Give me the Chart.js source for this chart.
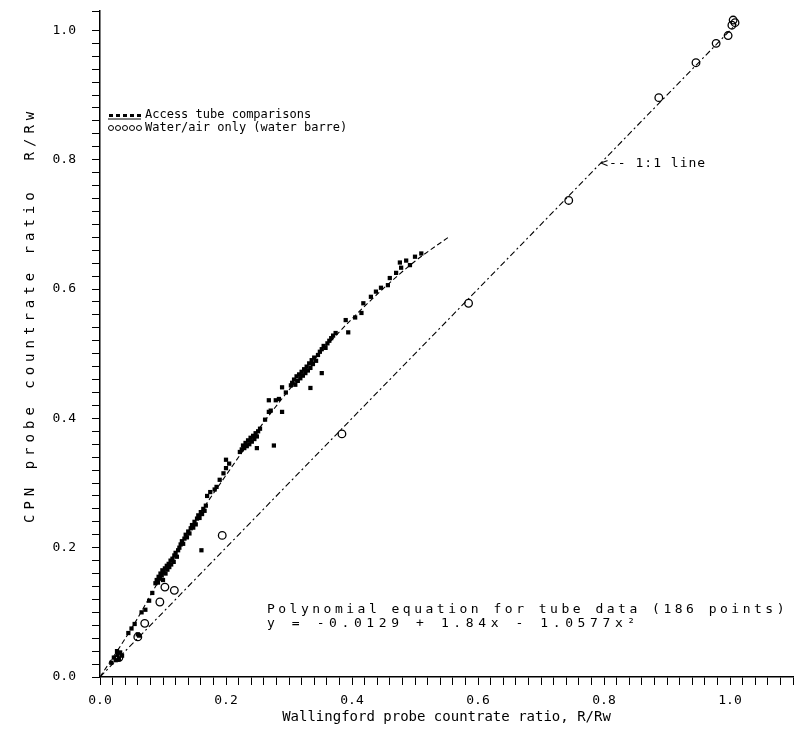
<!DOCTYPE html>
<html>
<head>
<meta charset="utf-8">
<script src="https://cdn.jsdelivr.net/npm/chart.js@4.4.0/dist/chart.umd.min.js"></script>
<style>
  html, body { margin: 0; padding: 0; background: #fff; }
  #wrap { width: 801px; height: 737px; }
</style>
</head>
<body>
<div id="wrap"><canvas id="chart"></canvas></div>
<script>
// Access tube comparisons (CPN vs Wallingford)
const tubePoints = [
  [0.018, 0.022], [0.022, 0.030], [0.025, 0.026], [0.028, 0.034], [0.030, 0.028], [0.032, 0.038], [0.035, 0.033], [0.027, 0.040],
  [0.045, 0.068], [0.050, 0.075], [0.055, 0.082], [0.060, 0.066], [0.062, 0.064], [0.066, 0.100], [0.072, 0.104], [0.078, 0.118], [0.083, 0.130],
  [0.088, 0.145], [0.090, 0.150], [0.092, 0.146], [0.093, 0.155], [0.095, 0.152], [0.096, 0.160], [0.098, 0.157], [0.099, 0.165],
  [0.100, 0.150], [0.101, 0.162], [0.103, 0.168], [0.104, 0.160], [0.106, 0.172], [0.107, 0.166], [0.109, 0.175], [0.110, 0.170],
  [0.112, 0.180], [0.113, 0.174], [0.115, 0.183], [0.117, 0.178], [0.118, 0.188], [0.120, 0.192], [0.122, 0.186], [0.124, 0.196],
  [0.126, 0.200], [0.128, 0.205], [0.130, 0.210], [0.132, 0.206], [0.134, 0.214], [0.136, 0.220], [0.138, 0.216], [0.140, 0.225],
  [0.142, 0.222], [0.144, 0.230], [0.146, 0.235], [0.148, 0.231], [0.150, 0.240], [0.152, 0.236], [0.154, 0.245], [0.156, 0.250],
  [0.158, 0.246], [0.160, 0.255], [0.162, 0.252], [0.164, 0.260], [0.166, 0.257], [0.168, 0.265], [0.161, 0.196],
  [0.170, 0.280], [0.175, 0.286], [0.182, 0.290], [0.185, 0.294], [0.190, 0.305], [0.196, 0.315], [0.200, 0.323], [0.200, 0.336], [0.205, 0.330],
  [0.222, 0.348], [0.225, 0.352], [0.227, 0.358], [0.229, 0.354], [0.231, 0.362], [0.233, 0.357], [0.235, 0.366], [0.237, 0.360],
  [0.239, 0.370], [0.241, 0.364], [0.243, 0.373], [0.245, 0.368], [0.247, 0.377], [0.249, 0.372], [0.251, 0.380], [0.249, 0.354],
  [0.276, 0.358], [0.254, 0.384],
  [0.262, 0.398], [0.268, 0.410], [0.271, 0.412], [0.279, 0.428], [0.284, 0.430], [0.289, 0.410], [0.289, 0.448], [0.295, 0.440],
  [0.303, 0.451], [0.268, 0.428],
  [0.305, 0.455], [0.308, 0.460], [0.310, 0.452], [0.312, 0.465], [0.314, 0.458], [0.316, 0.468], [0.318, 0.462], [0.320, 0.472],
  [0.322, 0.466], [0.324, 0.476], [0.326, 0.470], [0.328, 0.480], [0.330, 0.474], [0.332, 0.485], [0.334, 0.478], [0.336, 0.490],
  [0.338, 0.484], [0.340, 0.494], [0.343, 0.489], [0.346, 0.498], [0.349, 0.503], [0.352, 0.507], [0.355, 0.512], [0.358, 0.509],
  [0.361, 0.516], [0.364, 0.520], [0.367, 0.524], [0.370, 0.528], [0.374, 0.532], [0.352, 0.470], [0.334, 0.447],
  [0.390, 0.552], [0.394, 0.533], [0.405, 0.556], [0.415, 0.563], [0.418, 0.578], [0.430, 0.588], [0.438, 0.596], [0.446, 0.602],
  [0.457, 0.606], [0.460, 0.617], [0.470, 0.625], [0.476, 0.641], [0.478, 0.633], [0.486, 0.644], [0.492, 0.637], [0.500, 0.650],
  [0.510, 0.655]
];

// Water/air only (water barrel)
const waterPoints = [
  [0.030, 0.030], [0.060, 0.062], [0.071, 0.083], [0.095, 0.116], [0.103, 0.139], [0.118, 0.134], [0.194, 0.219],
  [0.384, 0.376], [0.585, 0.578], [0.744, 0.737], [0.887, 0.896], [0.946, 0.950], [0.978, 0.980], [0.997, 0.992],
  [1.003, 1.008], [1.005, 1.016], [1.008, 1.012]
];

// fitted polynomial
const fitCurve = [
  [0.0, 0.0], [0.05, 0.075], [0.1, 0.160], [0.15, 0.240], [0.2, 0.312], [0.25, 0.381],
  [0.3, 0.444], [0.35, 0.502], [0.4, 0.554], [0.45, 0.601], [0.5, 0.643], [0.553, 0.680]
];

const oneToOneLine = [[0, 0], [1.01, 1.01]];

const tickLabels = ['0.0', '0.2', '0.4', '0.6', '0.8', '1.0'];
const legendLabels = ['Access tube comparisons', 'Water/air only (water barre)'];
const fitText = ['Polynomial equation for tube data (186 points)', 'y = -0.0129 + 1.84x - 1.0577x\u00B2'];
const lineNote = '<-- 1:1 line';
const xTitle = 'Wallingford probe countrate ratio, R/Rw';
const yTitle = 'CPN probe countrate ratio  R/Rw';

const MONO = '"DejaVu Sans Mono", "Liberation Mono", monospace';
const toXY = arr => arr.map(p => ({ x: p[0], y: p[1] }));

function tickLabel(value) {
    const k = value * 5;
    if (Math.abs(k - Math.round(k)) < 1e-6) {
        return tickLabels[Math.round(k)] || '';
    }
    return '';
}

// texts placed inside the plot: legend, 1:1 note, polynomial
const annotations = {
    id: 'annotations',
    afterDraw(chart) {
        const { ctx, chartArea, scales: { x, y } } = chart;
        const spacing = v => { if ('letterSpacing' in ctx) ctx.letterSpacing = v; };
        ctx.save();
        ctx.fillStyle = '#000';
        ctx.strokeStyle = '#000';
        ctx.textBaseline = 'middle';
        ctx.textAlign = 'left';

        // legend
        const lx = chartArea.left + 9;
        const row1 = 115, row2 = 128;
        ctx.font = '12px ' + MONO;
        for (let i = 0; i < 5; i++) {
            ctx.fillRect(lx + i * 7, row1 - 1, 4, 3);
        }
        ctx.lineWidth = 1.2;
        ctx.beginPath();
        ctx.moveTo(lx - 1, row1 + 4);
        ctx.lineTo(lx + 32, row1 + 4);
        ctx.stroke();
        ctx.lineWidth = 1;
        for (let i = 0; i < 5; i++) {
            ctx.beginPath();
            ctx.arc(lx + 2 + i * 7, row2, 2.5, 0, Math.PI * 2);
            ctx.stroke();
        }
        ctx.fillText(legendLabels[0], lx + 36, row1);
        ctx.fillText(legendLabels[1], lx + 36, row2);

        // 1:1 note
        ctx.font = '13px ' + MONO;
        spacing('1px');
        ctx.fillText(lineNote, x.getPixelForValue(0.794), y.getPixelForValue(0.794));

        // polynomial
        spacing('3.5px');
        ctx.fillText(fitText[0], x.getPixelForValue(0.265), y.getPixelForValue(0.104));
        spacing('4.6px');
        ctx.fillText(fitText[1], x.getPixelForValue(0.265), y.getPixelForValue(0.082));

        // y axis title
        ctx.font = '14px ' + MONO;
        spacing('5px');
        ctx.translate(30, y.getPixelForValue(0.56));
        ctx.rotate(-Math.PI / 2);
        ctx.textAlign = 'center';
        ctx.fillText(yTitle, 0, 0);
        ctx.restore();
    }
};

const ctx = document.getElementById('chart').getContext('2d');
new Chart(ctx, {
    type: 'scatter',
    data: {
        datasets: [
            {
                label: legendLabels[0],
                data: toXY(tubePoints),
                pointStyle: 'rect',
                pointRadius: 3,
                backgroundColor: '#000',
                borderColor: '#000',
                borderWidth: 0
            },
            {
                label: legendLabels[1],
                data: toXY(waterPoints),
                pointStyle: 'circle',
                pointRadius: 3.8,
                backgroundColor: 'rgba(0,0,0,0)',
                borderColor: '#000',
                borderWidth: 1.3
            },
            {
                label: 'fit',
                data: toXY(fitCurve),
                showLine: true,
                pointRadius: 0,
                borderColor: '#000',
                borderWidth: 1.1,
                borderDash: [5, 3],
                cubicInterpolationMode: 'monotone'
            },
            {
                label: '1:1',
                data: toXY(oneToOneLine),
                showLine: true,
                pointRadius: 0,
                borderColor: '#000',
                borderWidth: 1.1,
                borderDash: [6, 3, 2, 3]
            }
        ]
    },
    options: {
        responsive: true,
        maintainAspectRatio: false,
        animation: false,
        layout: { padding: { left: 8, right: 6, top: 11, bottom: 8 } },
        plugins: {
            legend: { display: false },
            tooltip: { enabled: false }
        },
        scales: {
            x: {
                type: 'linear',
                min: 0,
                max: 1.1,
                afterFit: scale => { scale.height = 52; },
                border: { display: true, color: '#000', width: 1.5 },
                grid: { drawOnChartArea: false, color: '#000', tickLength: 8 },
                ticks: {
                    stepSize: 0.02,
                    autoSkip: false,
                    maxRotation: 0,
                    padding: 8,
                    color: '#000',
                    font: { family: MONO, size: 13 },
                    callback: tickLabel
                },
                title: {
                    display: true,
                    text: xTitle,
                    color: '#000',
                    font: { family: MONO, size: 14 },
                    padding: { top: 0, bottom: 3 }
                }
            },
            y: {
                type: 'linear',
                min: 0,
                max: 1.03,
                afterFit: scale => {
                    scale.width = 92;
                    scale.paddingTop = 0;
                    scale.paddingBottom = 0;
                },
                border: { display: true, color: '#000', width: 1.5 },
                grid: { drawOnChartArea: false, color: '#000', tickLength: 8 },
                ticks: {
                    stepSize: 0.02,
                    autoSkip: false,
                    padding: 16,
                    color: '#000',
                    font: { family: MONO, size: 13 },
                    callback: tickLabel
                }
            }
        }
    },
    plugins: [annotations]
});
</script>
</body>
</html>
